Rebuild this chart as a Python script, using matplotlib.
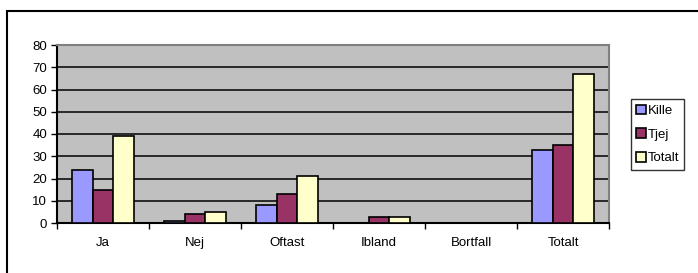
import matplotlib.pyplot as plt
import numpy as np
from matplotlib.patches import Rectangle

plt.rcParams['font.family'] = ['Liberation Sans', 'DejaVu Sans']

# data
kategorier = ['Ja', 'Nej', 'Oftast', 'Ibland', 'Bortfall', 'Totalt']
kille = [24, 1, 8, 0, 0, 33]
tjej = [15, 4, 13, 2.5, 0, 35]
totalt = [39, 5, 21, 2.5, 0, 67]
serier = ['Kille', 'Tjej', 'Totalt']
farger = ['#9999FF', '#993366', '#FFFFCC']

fig = plt.figure(figsize=(6.98, 2.73), dpi=100)
ax = fig.add_axes([57 / 698, 1 - 223 / 273, (609 - 57) / 698, (223 - 45) / 273])

# ram runt hela figuren
fig.patches.append(Rectangle((7 / 698, -0.1), 1.2, 1 - 11 / 273 + 0.1,
                             transform=fig.transFigure, fill=False,
                             edgecolor='black', linewidth=1.5))

ax.set_facecolor('#C0C0C0')
x = np.arange(len(kategorier))
w = 0.222
for i, (vals, namn, f) in enumerate(zip([kille, tjej, totalt], serier, farger)):
    ax.bar(x + (i - 1) * w, vals, width=w, color=f, edgecolor='black',
           linewidth=1.2, label=namn, zorder=3)

ax.set_xlim(-0.5, len(kategorier) - 0.5)
ax.set_ylim(0, 80)
ax.set_yticks(range(0, 81, 10))
ax.yaxis.grid(True, color='black', linewidth=1.1, zorder=1)
ax.set_axisbelow(True)

ax.set_xticks(x)
ax.set_xticklabels(kategorier)
ax.set_xticks(np.arange(-0.5, len(kategorier), 1), minor=True)
ax.tick_params(axis='x', which='major', length=0, pad=10, labelsize=9.5)
ax.tick_params(axis='x', which='minor', length=4, width=1, direction='out')
ax.tick_params(axis='y', length=4, width=1, direction='out', labelsize=9.5, pad=3)

ax.spines['left'].set_linewidth(1.5)
ax.spines['bottom'].set_linewidth(1.5)
ax.spines['top'].set_color('#808080')
ax.spines['right'].set_color('#808080')
ax.spines['top'].set_linewidth(1.5)
ax.spines['right'].set_linewidth(1.5)

leg = ax.legend(loc='center left', bbox_to_anchor=(631 / 698, 0.507),
                bbox_transform=fig.transFigure, borderaxespad=0,
                fontsize=9.5, frameon=True, fancybox=False, shadow=False,
                handlelength=0.75, handleheight=0.75, handletextpad=0.1,
                labelspacing=0.85, borderpad=0.4)
leg.get_frame().set_edgecolor('black')
leg.get_frame().set_linewidth(1.0)

plt.savefig('out.png', dpi=100)
